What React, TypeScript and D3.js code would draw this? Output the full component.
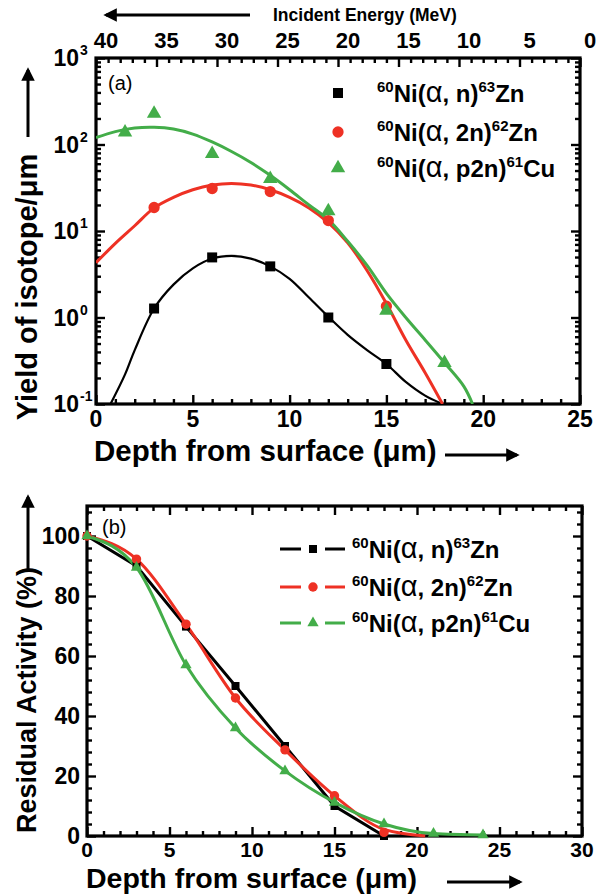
import React, { useEffect, useRef } from 'react';
import * as d3 from 'd3';

// ---- panel (a): yield of isotope per µm vs depth ----
const depthA63 = [3, 6, 9, 12, 15];
const yieldA63 = [1.27, 4.95, 3.9, 1.0, 0.29];
const depthA62 = [3, 6, 9, 12, 15];
const yieldA62 = [18.7, 31, 28.6, 13.2, 1.35];
const depthA61 = [1.5, 3, 6, 9, 12, 15, 18];
const yieldA61 = [138, 228, 78, 40, 17, 1.2, 0.3];

// fitted curves
const fitDepth63 = [0.75, 1.5, 2, 3, 4, 5, 6, 7, 8, 9, 10, 11, 12, 13, 14, 15, 16, 17, 17.9];
const fitYield63 = [0.1, 0.22, 0.42, 1.27, 2.4, 3.7, 4.8, 5.15, 4.8, 3.9, 2.8, 1.7, 1.02, 0.63, 0.42, 0.29, 0.18, 0.125, 0.1];
const fitDepth62 = [0, 1, 2, 3, 4, 5, 6, 7, 8, 9, 10, 11, 12, 13, 14, 15, 16, 17, 17.9];
const fitYield62 = [4.3, 7.2, 11.5, 18.5, 24.5, 30, 34, 35.5, 34, 30, 24.5, 18.5, 12.5, 7.3, 3.5, 1.45, 0.55, 0.23, 0.1];
const fitDepth61 = [0, 1, 2, 3, 4, 5, 6, 7, 8, 9, 10, 11, 12, 13, 14, 15, 16, 17, 18, 19, 19.45];
const fitYield61 = [120, 141, 155, 158, 151, 132, 107, 83, 62, 44, 30, 20, 13.5, 7.6, 4.0, 1.9, 1.0, 0.55, 0.3, 0.16, 0.1];

const energyTicks = [40, 35, 30, 25, 20, 15, 10, 5, 0];
const logTicks = [0.1, 1, 10, 100, 1000];

// ---- panel (b): residual activity vs depth ----
const depthB = [0, 3, 6, 9, 12, 15, 18];
const resB63 = [100, 90, 69.8, 50, 30, 10, 0];
const resB62 = [100, 92.3, 70.6, 46, 28.7, 13.4, 1.2];
const depthB61 = [0, 3, 6, 9, 12, 15, 18, 21, 24];
const resB61 = [100, 89.5, 57, 36, 21.7, 11.2, 4, 0.8, 0.3];
const fitDepthB62 = [0, 3, 6, 9, 12, 15, 18, 20.5];
const fitResB62 = [100, 92.3, 70.6, 46, 28.7, 13.4, 2.2, 0];

const RED = '#ee3124';
const GREEN = '#43ad49';
const FONT = "'Liberation Sans', Arial, sans-serif";

const zip = (xs: number[], ys: number[]) => xs.map((x, i) => [x, ys[i]] as [number, number]);

const App = () => {
  const svgRef = useRef<SVGSVGElement>(null);

  useEffect(() => {
    d3.select(document.body).style('margin', '0');
    const svg = d3.select(svgRef.current);
    svg.selectAll('*').remove();
    svg.attr('font-family', FONT);

    // arrow head marker
    svg.append('defs').append('marker')
      .attr('id', 'head').attr('viewBox', '0 0 10 10')
      .attr('refX', 8).attr('refY', 5)
      .attr('markerWidth', 4.5).attr('markerHeight', 4.5)
      .attr('orient', 'auto')
      .append('path').attr('d', 'M0,0 L10,5 L0,10 z').attr('fill', '#000');

    const arrow = (x1: number, y1: number, x2: number, y2: number) =>
      svg.append('line').attr('x1', x1).attr('y1', y1).attr('x2', x2).attr('y2', y2)
        .attr('stroke', '#000').attr('stroke-width', 3).attr('marker-end', 'url(#head)');

    const tickGroup = (axis: any, tx: number, ty: number) => {
      const g = svg.append('g').attr('transform', `translate(${tx},${ty})`).call(axis);
      g.select('.domain').remove();
      g.selectAll('line').attr('stroke', '#000').attr('stroke-width', 2.4);
      g.selectAll('text').remove();
      return g;
    };

    const legendText = (x: number, y: number, pre: string, mid: string, post: string, prod: string) => {
      const t = svg.append('text').attr('x', x).attr('y', y).attr('font-weight', 'bold').attr('font-size', 24);
      t.append('tspan').attr('font-size', 15).attr('dy', -10).text(pre);
      t.append('tspan').attr('dy', 10).text('Ni(');
      t.append('tspan').attr('font-size', 29).attr('font-weight', 'normal').text('α');
      t.append('tspan').text(mid);
      t.append('tspan').attr('font-size', 15).attr('dy', -10).text(post);
      t.append('tspan').attr('dy', 10).text(prod);
    };

    const sym = (type: any, size: number) => d3.symbol().type(type).size(size)();

    // =================== panel (a) ===================
    const ax = d3.scaleLinear().domain([0, 25]).range([96, 580]);
    const ay = d3.scaleLog().domain([0.1, 1000]).range([404, 58]);
    const aE = d3.scaleLinear().domain([40, 0]).range([96, 580]);
    const aTop = 58, aBot = 404, aL = 96, aR = 580;

    const majorA = d3.range(0, 26, 5);
    const minorA = d3.range(0, 26, 1).filter(v => v % 5 !== 0);
    const minorLog = ay.ticks().filter(v => !logTicks.some(p => Math.abs(p - v) < 1e-9));

    tickGroup(d3.axisBottom(ax).tickValues(majorA).tickSize(-9), 0, aBot);
    tickGroup(d3.axisBottom(ax).tickValues(minorA).tickSize(-5), 0, aBot);
    tickGroup(d3.axisTop(aE).tickValues(energyTicks).tickSize(-9), 0, aTop);
    tickGroup(d3.axisTop(aE).tickValues(d3.range(0, 41, 1).filter(v => v % 5 !== 0)).tickSize(-5), 0, aTop);
    tickGroup(d3.axisLeft(ay).tickValues(logTicks).tickSize(-9), aL, 0);
    tickGroup(d3.axisLeft(ay).tickValues(minorLog).tickSize(-5), aL, 0);
    tickGroup(d3.axisRight(ay).tickValues(logTicks).tickSize(-9), aR, 0);
    tickGroup(d3.axisRight(ay).tickValues(minorLog).tickSize(-5), aR, 0);

    svg.append('rect').attr('x', aL).attr('y', aTop).attr('width', aR - aL).attr('height', aBot - aTop)
      .attr('fill', 'none').attr('stroke', '#000').attr('stroke-width', 3.2);

    // tick labels
    svg.append('g').selectAll('text').data(majorA).join('text')
      .attr('x', d => ax(d)).attr('y', 427).attr('text-anchor', 'middle')
      .attr('font-weight', 'bold').attr('font-size', 23).text(d => d);
    svg.append('g').selectAll('text').data(energyTicks).join('text')
      .attr('x', d => aE(d) + 10).attr('y', 48).attr('text-anchor', 'middle')
      .attr('font-weight', 'bold').attr('font-size', 22).text(d => d);
    const ylab = svg.append('g').selectAll('g').data(logTicks).join('g')
      .attr('transform', d => `translate(0,${ay(d)})`);
    ylab.append('text').attr('x', 79).attr('y', 8).attr('text-anchor', 'end')
      .attr('font-weight', 'bold').attr('font-size', 23).text('10');
    ylab.append('text').attr('x', 80).attr('y', -3).attr('font-weight', 'bold').attr('font-size', 14)
      .text(d => String(Math.round(Math.log10(d))));

    // axis titles
    svg.append('text').attr('x', 94).attr('y', 461).attr('font-weight', 'bold').attr('font-size', 29.5)
      .text('Depth from surface (μm)');
    arrow(445, 455, 517, 455);
    svg.append('text').attr('x', 273).attr('y', 21).attr('font-weight', 'bold').attr('font-size', 17.5)
      .text('Incident Energy (MeV)');
    arrow(250, 15, 106, 15);
    svg.append('text').attr('transform', 'translate(37,287) rotate(-90)').attr('text-anchor', 'middle')
      .attr('font-weight', 'bold').attr('font-size', 29).text('Yield of isotope/μm');
    arrow(28, 137, 28, 70);
    svg.append('text').attr('x', 108).attr('y', 90).attr('font-size', 20).text('(a)');

    // curves
    svg.append('clipPath').attr('id', 'clipA').append('rect')
      .attr('x', aL).attr('y', aTop).attr('width', aR - aL).attr('height', aBot - aTop);
    const lineA = d3.line<[number, number]>().x(d => ax(d[0])).y(d => ay(d[1])).curve(d3.curveCatmullRom.alpha(0.5));
    const curvesA: [number[], number[], string][] = [
      [fitDepth63, fitYield63, '#000'],
      [fitDepth62, fitYield62, RED],
      [fitDepth61, fitYield61, GREEN],
    ];
    curvesA.forEach(([xs, ys, c]) => {
      svg.append('path').attr('clip-path', 'url(#clipA)').attr('d', lineA(zip(xs, ys)))
        .attr('fill', 'none').attr('stroke', c).attr('stroke-width', c === '#000' ? 2.2 : 3);
    });

    const pointsA: [number[], number[], any, number, string][] = [
      [depthA63, yieldA63, d3.symbolSquare, 100, '#000'],
      [depthA62, yieldA62, d3.symbolCircle, 100, RED],
      [depthA61, yieldA61, d3.symbolTriangle, 90, GREEN],
    ];
    pointsA.forEach(([xs, ys, t, s, c]) => {
      svg.append('g').selectAll('path').data(zip(xs, ys)).join('path')
        .attr('transform', d => `translate(${ax(d[0])},${ay(d[1])})`)
        .attr('d', sym(t, s)).attr('fill', c);
    });

    // legend (a)
    const legA: [any, number, string, string, string, string][] = [
      [d3.symbolSquare, 100, '#000', ', n)', '63', 'Zn'],
      [d3.symbolCircle, 100, RED, ', 2n)', '62', 'Zn'],
      [d3.symbolTriangle, 90, GREEN, ', p2n)', '61', 'Cu'],
    ];
    const legAY = [93, 132, 168];
    legA.forEach(([t, s, c, mid, post, prod], i) => {
      svg.append('path').attr('transform', `translate(338,${legAY[i]})`).attr('d', sym(t, s)).attr('fill', c);
      legendText(377, legAY[i] + 9, '60', mid, post, prod);
    });

    // =================== panel (b) ===================
    const bx = d3.scaleLinear().domain([0, 30]).range([87, 582]);
    const by = d3.scaleLinear().domain([0, 110]).range([836, 506]);
    const bTop = 506, bBot = 836, bL = 87, bR = 582;
    const majorBX = d3.range(0, 31, 5);
    const minorBX = d3.range(0, 31, 1).filter(v => v % 5 !== 0);
    const majorBY = d3.range(0, 101, 20);
    const minorBY = d3.range(0, 110, 4).filter(v => v % 20 !== 0);

    tickGroup(d3.axisBottom(bx).tickValues(majorBX).tickSize(-9), 0, bBot);
    tickGroup(d3.axisBottom(bx).tickValues(minorBX).tickSize(-5), 0, bBot);
    tickGroup(d3.axisTop(bx).tickValues(majorBX).tickSize(-9), 0, bTop);
    tickGroup(d3.axisTop(bx).tickValues(minorBX).tickSize(-5), 0, bTop);
    tickGroup(d3.axisLeft(by).tickValues(majorBY).tickSize(-9), bL, 0);
    tickGroup(d3.axisLeft(by).tickValues(minorBY).tickSize(-5), bL, 0);
    tickGroup(d3.axisRight(by).tickValues(majorBY).tickSize(-9), bR, 0);
    tickGroup(d3.axisRight(by).tickValues(minorBY).tickSize(-5), bR, 0);

    svg.append('rect').attr('x', bL).attr('y', bTop).attr('width', bR - bL).attr('height', bBot - bTop)
      .attr('fill', 'none').attr('stroke', '#000').attr('stroke-width', 3.2);

    svg.append('g').selectAll('text').data(majorBX).join('text')
      .attr('x', d => bx(d)).attr('y', 857).attr('text-anchor', 'middle')
      .attr('font-weight', 'bold').attr('font-size', 21).text(d => d);
    svg.append('g').selectAll('text').data(majorBY).join('text')
      .attr('x', 80).attr('y', d => by(d) + 8).attr('text-anchor', 'end')
      .attr('font-weight', 'bold').attr('font-size', 23).text(d => d);

    svg.append('text').attr('x', 86).attr('y', 888).attr('font-weight', 'bold').attr('font-size', 28.5)
      .text('Depth from surface (μm)');
    arrow(447, 882, 520, 882);
    svg.append('text').attr('transform', 'translate(36,700) rotate(-90)').attr('text-anchor', 'middle')
      .attr('font-weight', 'bold').attr('font-size', 27).text('Residual Activity (%)');
    arrow(28, 570, 28, 497);
    svg.append('text').attr('x', 102).attr('y', 534).attr('font-size', 20).text('(b)');

    const lineB = d3.line<[number, number]>().x(d => bx(d[0])).y(d => by(d[1]));
    svg.append('path').attr('d', lineB.curve(d3.curveLinear)(zip(depthB, resB63)))
      .attr('fill', 'none').attr('stroke', '#000').attr('stroke-width', 3);
    svg.append('path').attr('d', lineB.curve(d3.curveMonotoneX)(zip(fitDepthB62, fitResB62)))
      .attr('fill', 'none').attr('stroke', RED).attr('stroke-width', 3);
    svg.append('path').attr('d', lineB.curve(d3.curveMonotoneX)(zip(depthB61, resB61)))
      .attr('fill', 'none').attr('stroke', GREEN).attr('stroke-width', 3);

    const pointsB: [number[], number[], any, number, string][] = [
      [depthB, resB63, d3.symbolSquare, 64, '#000'],
      [depthB, resB62, d3.symbolCircle, 70, RED],
      [depthB61, resB61, d3.symbolTriangle, 55, GREEN],
    ];
    pointsB.forEach(([xs, ys, t, s, c]) => {
      svg.append('g').selectAll('path').data(zip(xs, ys)).join('path')
        .attr('transform', d => `translate(${bx(d[0])},${by(d[1])})`)
        .attr('d', sym(t, s)).attr('fill', c);
    });

    const legBY = [549, 587, 623];
    pointsB.forEach(([, , t, s, c], i) => {
      svg.append('line').attr('x1', 280).attr('x2', 345).attr('y1', legBY[i]).attr('y2', legBY[i])
        .attr('stroke', c).attr('stroke-width', 3);
      svg.append('rect').attr('x', 301).attr('y', legBY[i] - 3).attr('width', 24).attr('height', 6).attr('fill', '#fff');
      svg.append('path').attr('transform', `translate(313,${legBY[i]})`).attr('d', sym(t, s)).attr('fill', c);
      legendText(352, legBY[i] + 9, '60', legA[i][3], legA[i][4], legA[i][5]);
    });
  }, []);

  return <svg ref={svgRef} width={604} height={896} style={{ display: 'block', background: '#fff' }} />;
};

export default App;
